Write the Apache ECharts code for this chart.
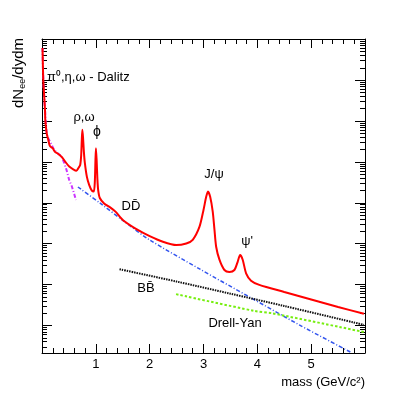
<!DOCTYPE html>
<html>
<head>
<meta charset="utf-8">
<script src="https://cdn.jsdelivr.net/npm/echarts@6/dist/echarts.min.js"></script>
<style>
  html, body { margin: 0; padding: 0; background: #fff; }
  #chart { width: 407px; height: 393px; }
</style>
</head>
<body>
<div id="chart"></div>
<script>
// x tick labels
var xTicks = [1, 2, 3, 4, 5];
// y axis: decades and the minor multiples inside each decade (log ticks)
var yDecades = [-8, -7, -6, -5, -4, -3, -2, -1, 0];
var yMultiples = [1, 2, 3, 4, 5, 6, 7, 8, 9];
var yMin = 2.09e-8, yMax = 1;

// total spectrum
var totalMass = [0.01, 0.024, 0.056, 0.061, 0.087, 0.117, 0.148, 0.198, 0.241, 0.291, 0.37, 0.444, 0.506, 0.58, 0.639, 0.68, 0.709, 0.728, 0.739, 0.75, 0.763, 0.778, 0.796, 0.833, 0.876, 0.926, 0.963, 0.981, 0.993, 1.002, 1.015, 1.028, 1.043, 1.074, 1.154, 1.278, 1.37, 1.506, 1.754, 2.0, 2.246, 2.494, 2.68, 2.8, 2.926, 3.0, 3.05, 3.083, 3.124, 3.172, 3.204, 3.235, 3.296, 3.389, 3.481, 3.574, 3.635, 3.68, 3.728, 3.791, 3.883, 4.037, 4.5, 5.0, 5.5, 5.98];
var totalVal = [0.603, 0.1, 0.0182, 0.01047, 5.01e-3, 3.39e-3, 2.4e-3, 2.14e-3, 1.74e-3, 1.58e-3, 1.29e-3, 9.5e-4, 7.6e-4, 6.5e-4, 6.0e-4, 7.1e-4, 8.3e-4, 1.45e-3, 3.4e-3, 6.0e-3, 3.8e-3, 1.74e-3, 9.3e-4, 4.3e-4, 2.7e-4, 1.95e-4, 1.86e-4, 3.16e-4, 1.1e-3, 2.14e-3, 1.1e-3, 4.0e-4, 2.04e-4, 1.29e-4, 9.5e-5, 7.4e-5, 5.9e-5, 3.7e-5, 2.24e-5, 1.51e-5, 1.1e-5, 9.1e-6, 1.0e-5, 1.23e-5, 2.57e-5, 6.6e-5, 1.38e-4, 1.86e-4, 1.38e-4, 5.9e-5, 2.14e-5, 8.3e-6, 4.0e-6, 2.24e-6, 2.0e-6, 2.24e-6, 3.55e-6, 5.2e-6, 4.0e-6, 1.86e-6, 1.23e-6, 9.7e-7, 6.5e-7, 4.27e-7, 2.8e-7, 1.9e-7];

// pi0, eta, omega Dalitz
var dalitzMass = [0.01, 0.024, 0.056, 0.087, 0.117, 0.167, 0.209, 0.259, 0.361, 0.45, 0.506, 0.55, 0.598, 0.63];
var dalitzVal = [0.603, 0.1, 0.0182, 5.0e-3, 3.7e-3, 2.8e-3, 2.14e-3, 1.74e-3, 1.32e-3, 6.6e-4, 3.55e-4, 2.57e-4, 1.62e-4, 1.15e-4];

// open charm
var ddMass = [0.667, 1.074, 1.537, 2.0, 2.926, 3.852, 4.778, 5.759];
var ddVal = [2.4e-4, 9.8e-5, 3.36e-5, 1.22e-5, 2.38e-6, 4.92e-7, 1.02e-7, 2.1e-8];

// open bottom
var bbMass = [1.44, 2.5, 3.5, 4.5, 5.98];
var bbVal = [2.34e-6, 1.17e-6, 5.9e-7, 2.95e-7, 1.02e-7];

// Drell-Yan
var dyMass = [2.49, 3.94, 4.28, 5.98];
var dyVal = [5.75e-7, 2.24e-7, 1.95e-7, 6.8e-8];

function pairs(xs, ys) {
	var out = [];
	for (var i = 0; i < xs.length; i++) {
		out.push([xs[i], ys[i]]);
	}
	return out;
}

// log tick marks, drawn on both sides of the frame
var yTickData = [];
yDecades.forEach(function(d) {
	yMultiples.forEach(function(m) {
		var v = m * Math.pow(10, d);
		if (v >= yMin && v <= yMax * 1.0001) {
			yTickData.push([0, v, m == 1 ? 1 : 0]);
		}
	});
});

var font = '"Liberation Sans", Arial, sans-serif';

var chart = echarts.init(document.getElementById('chart'));

var xAxisBase = {
	type: 'value',
	min: 0,
	max: 6,
	interval: 1,
	axisLine: { show: true, onZero: false, lineStyle: { color: '#000', width: 1 } },
	axisTick: { show: true, inside: true, length: 9, lineStyle: { color: '#000' } },
	minorTick: { show: true, splitNumber: 5, length: 5, lineStyle: { color: '#000' } },
	splitLine: { show: false },
	minorSplitLine: { show: false }
};

var option = {
	animation: false,
	backgroundColor: '#fff',
	grid: { left: 42, top: 39, width: 323, height: 314, containLabel: false },
	xAxis: [
		Object.assign({}, xAxisBase, {
			position: 'bottom',
			axisLabel: {
				show: true,
				margin: 5,
				color: '#000',
				fontSize: 13,
				fontFamily: font,
				formatter: function(v) {
					return xTicks.indexOf(v) >= 0 ? String(v) : '';
				}
			}
		}),
		Object.assign({}, xAxisBase, {
			position: 'top',
			axisLabel: { show: false }
		})
	],
	yAxis: [
		{
			type: 'log',
			min: yMin,
			max: yMax,
			position: 'left',
			axisLine: { show: true, onZero: false, lineStyle: { color: '#000', width: 1 } },
			axisTick: { show: false },
			axisLabel: { show: false },
			splitLine: { show: false }
		},
		{
			type: 'log',
			min: yMin,
			max: yMax,
			position: 'right',
			axisLine: { show: true, onZero: false, lineStyle: { color: '#000', width: 1 } },
			axisTick: { show: false },
			axisLabel: { show: false },
			splitLine: { show: false }
		}
	],
	series: [
		{
			type: 'custom',
			xAxisIndex: 0,
			yAxisIndex: 0,
			silent: true,
			clip: false,
			encode: { x: 0, y: 1 },
			data: yTickData,
			renderItem: function(params, api) {
				var cs = params.coordSys;
				var y = Math.round(api.coord([0, api.value(1)])[1]) + 0.5;
				var len = api.value(2) ? 10 : 5;
				return {
					type: 'group',
					children: [
						{ type: 'line', shape: { x1: cs.x, y1: y, x2: cs.x + len, y2: y }, style: { stroke: '#000', lineWidth: 1 } },
						{ type: 'line', shape: { x1: cs.x + cs.width - len, y1: y, x2: cs.x + cs.width, y2: y }, style: { stroke: '#000', lineWidth: 1 } }
					]
				};
			}
		},
		{
			name: 'Dalitz',
			type: 'line',
			data: pairs(dalitzMass, dalitzVal),
			showSymbol: false,
			smooth: 0.3,
			lineStyle: { color: '#cc33ff', width: 2, type: [4, 2, 1, 2] }
		},
		{
			name: 'DD',
			type: 'line',
			data: pairs(ddMass, ddVal),
			showSymbol: false,
			smooth: 0.3,
			lineStyle: { color: '#3355ee', width: 1.5, type: [4, 2, 1, 2] }
		},
		{
			name: 'BB',
			type: 'line',
			data: pairs(bbMass, bbVal),
			showSymbol: false,
			smooth: 0.3,
			lineStyle: { color: '#111', width: 2, type: [1.5, 1] }
		},
		{
			name: 'Drell-Yan',
			type: 'line',
			data: pairs(dyMass, dyVal),
			showSymbol: false,
			smooth: 0.3,
			lineStyle: { color: '#77ee11', width: 2, type: [2.5, 2] }
		},
		{
			name: 'total',
			type: 'line',
			data: pairs(totalMass, totalVal),
			showSymbol: false,
			smooth: 0.25,
			lineStyle: { color: '#ff0000', width: 2 }
		}
	],
	graphic: [
		{
			type: 'text', x: 19, y: 108, rotation: Math.PI / 2,
			style: {
				text: '{a|dN}{s|ee}{a|/dydm}',
				align: 'left', verticalAlign: 'middle',
				rich: {
					a: { fontSize: 15, fontFamily: font, fill: '#000' },
					s: { fontSize: 9, fontFamily: font, fill: '#000', padding: [8, 0, 0, 0] }
				}
			}
		},
		{ type: 'text', x: 365, y: 382, style: { text: 'mass (GeV/c\u00b2)', font: '13px ' + font, fill: '#000', align: 'right', verticalAlign: 'middle' } },
		{ type: 'text', x: 47, y: 77, style: { text: '\u03c0\u2070,\u03b7,\u03c9 - Dalitz', font: '13px ' + font, fill: '#000', align: 'left', verticalAlign: 'middle' } },
		{ type: 'text', x: 84, y: 117, style: { text: '\u03c1,\u03c9', font: '13px ' + font, fill: '#000', align: 'center', verticalAlign: 'middle' } },
		{ type: 'text', x: 97, y: 132, style: { text: '\u03d5', font: '14px ' + font, fill: '#000', align: 'center', verticalAlign: 'middle' } },
		{ type: 'text', x: 131, y: 206, style: { text: 'DD\u0304', font: '13px ' + font, fill: '#000', align: 'center', verticalAlign: 'middle' } },
		{ type: 'text', x: 214, y: 174, style: { text: 'J/\u03c8', font: '13px ' + font, fill: '#000', align: 'center', verticalAlign: 'middle' } },
		{ type: 'text', x: 247, y: 241, style: { text: '\u03c8\'', font: '13px ' + font, fill: '#000', align: 'center', verticalAlign: 'middle' } },
		{ type: 'text', x: 146, y: 288, style: { text: 'BB\u0304', font: '13px ' + font, fill: '#000', align: 'center', verticalAlign: 'middle' } },
		{ type: 'text', x: 235, y: 323, style: { text: 'Drell-Yan', font: '13px ' + font, fill: '#000', align: 'center', verticalAlign: 'middle' } }
	]
};

chart.setOption(option);
</script>
</body>
</html>
